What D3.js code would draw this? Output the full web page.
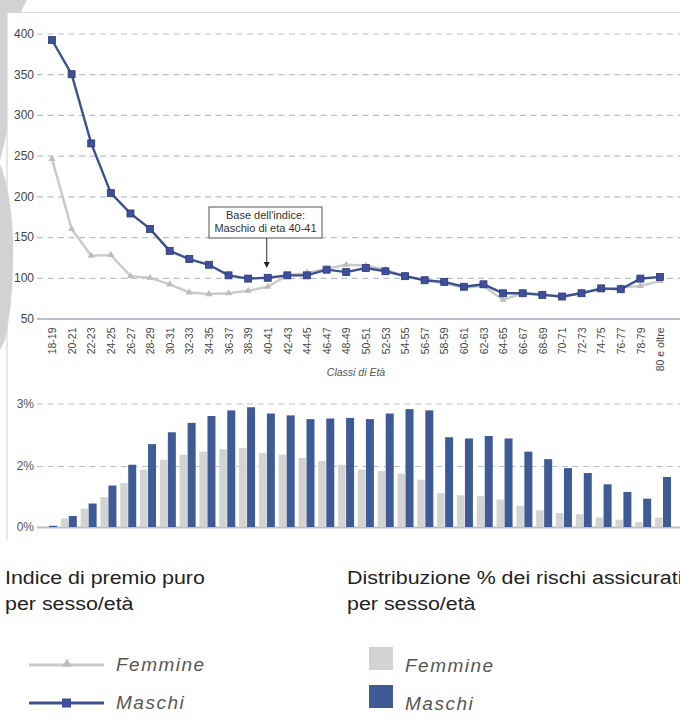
<!DOCTYPE html>
<html lang="it">
<head>
<meta charset="UTF-8">
<title>Indice di premio puro per sesso/età</title>
<script src="https://cdnjs.cloudflare.com/ajax/libs/d3/7.8.5/d3.min.js"></script>
<style>
  body { margin: 0; background: #fff; }
  #chart text { font-family: "Liberation Sans", Arial, sans-serif; }
</style>
</head>
<body>
<div id="chart"></div>
<script>
// age classes (x categories / tick labels)
const ageClasses = ["18-19","20-21","22-23","24-25","26-27","28-29","30-31","32-33","34-35","36-37",
  "38-39","40-41","42-43","44-45","46-47","48-49","50-51","52-53","54-55","56-57","58-59","60-61",
  "62-63","64-65","66-67","68-69","70-71","72-73","74-75","76-77","78-79","80 e oltre"];

// pure premium index (base = male 40-41 = 100)
const indexMaschi = [392,350,265,204,179,160,133,123,116,103,99,100,103,103,110,107,112,108,102,97,
  95,89,92,81,81,79,77,81,87,86,99,101];
const indexFemmine = [246,160,127,128,102,100,92,82,80,81,84,89,103,106,111,116,115,110,102,97,
  93,88,90,73,81,80,76,82,85,88,90,96];

// % distribution of insured risks
const shareMaschi = [0.04,0.36,0.77,1.36,2.02,2.35,2.54,2.69,2.80,2.89,2.94,2.84,2.81,2.75,2.76,2.77,
  2.75,2.84,2.91,2.89,2.46,2.44,2.48,2.44,2.23,2.11,1.93,1.77,1.40,1.15,0.93,1.64];
const shareFemmine = [0.02,0.28,0.60,0.98,1.44,1.88,2.10,2.18,2.23,2.27,2.29,2.21,2.18,2.13,2.08,2.02,
  1.88,1.84,1.75,1.55,1.11,1.04,1.01,0.90,0.70,0.55,0.46,0.42,0.31,0.24,0.16,0.31];

// axis ticks
const indexTicks = [50,100,150,200,250,300,350,400];
const shareTicks = [0,2,3];
const shareTickLabels = ["0%","2%","3%"];
const seriesNames = ["Femmine","Maschi"];

const blue = "#3d5090", blueBar = "#3f5b95", grey = "#cbcbcb", greyBar = "#d3d3d3";
const gridColor = "#b9bfcc";

const W = 680, H = 727;
const svg = d3.select("#chart").append("svg").attr("width", W).attr("height", H);

// background decoration: grey shapes on the left and white panel
svg.append("path")
  .attr("d", "M0,0 L27,0 Q23,7 21,12 L7,12 L7,128 Q5,145 0,160 Z")
  .attr("fill", "#d2d2d5");
svg.append("path")
  .attr("d", "M0,164 Q11,190 13,240 Q14,300 5,340 L0,350 Z")
  .attr("fill", "#d2d2d5");
svg.append("path")
  .attr("d", "M7,540 L7,12.5 L680,12.5")
  .attr("fill", "none").attr("stroke", "#d8d8d8").attr("stroke-width", 1.2);

// ---------- line chart ----------
const xLine = d3.scalePoint().domain(ageClasses).range([52, 660]);
const yLine = d3.scaleLinear().domain([50, 400]).range([318.5, 33.5]);

const yAxisLine = svg.append("g")
  .attr("transform", "translate(37,0)")
  .call(d3.axisLeft(yLine).tickValues(indexTicks).tickSize(-(W - 37)).tickPadding(3));
yAxisLine.select(".domain").remove();
yAxisLine.selectAll(".tick line")
  .attr("stroke", gridColor).attr("stroke-width", d => d === 50 ? 1.8 : 1.2)
  .attr("stroke-dasharray", d => d === 50 ? null : "6,4.5");
yAxisLine.selectAll(".tick text").attr("fill", "#444").style("font-size", "12px");

const xAxisLine = svg.append("g")
  .attr("transform", `translate(0,${yLine(50)})`)
  .call(d3.axisBottom(xLine).tickSize(0));
xAxisLine.select(".domain").remove();
xAxisLine.selectAll(".tick text")
  .attr("transform", "rotate(-90)")
  .attr("x", -9).attr("y", 0).attr("dy", "0.35em")
  .attr("text-anchor", "end")
  .attr("fill", "#444").style("font-size", "10.5px");

svg.append("text")
  .attr("x", 356).attr("y", 376)
  .attr("text-anchor", "middle")
  .attr("fill", "#555").style("font-size", "10.5px").style("font-style", "italic")
  .text("Classi di Età");

const line = d3.line().x((d, i) => xLine(ageClasses[i])).y(d => yLine(d));

svg.append("path").datum(indexFemmine)
  .attr("d", line).attr("fill", "none").attr("stroke", grey).attr("stroke-width", 2.5);
const tri = d3.symbol().type(d3.symbolTriangle).size(22);
svg.append("g").selectAll("path").data(indexFemmine).join("path")
  .attr("d", tri)
  .attr("transform", (d, i) => `translate(${xLine(ageClasses[i])},${yLine(d)})`)
  .attr("fill", "#bdbdbd");

svg.append("path").datum(indexMaschi)
  .attr("d", line).attr("fill", "none").attr("stroke", blue).attr("stroke-width", 2.4);
svg.append("g").selectAll("rect").data(indexMaschi).join("rect")
  .attr("x", (d, i) => xLine(ageClasses[i]) - 3.5)
  .attr("y", d => yLine(d) - 3.5)
  .attr("width", 7).attr("height", 7)
  .attr("fill", "#3f4f9c").attr("stroke", "#2c3a78").attr("stroke-width", 0.8);

// annotation
const baseCls = "40-41";
const ax = xLine(baseCls) - 1;
const ann = svg.append("g");
ann.append("rect").attr("x", 209).attr("y", 207).attr("width", 113).attr("height", 31)
  .attr("fill", "#fff").attr("stroke", "#555").attr("stroke-width", 1);
ann.append("text").attr("x", 265.5).attr("y", 219)
  .attr("text-anchor", "middle").attr("fill", "#333").style("font-size", "11px")
  .text("Base dell'indice:");
ann.append("text").attr("x", 265.5).attr("y", 231.5)
  .attr("text-anchor", "middle").attr("fill", "#333").style("font-size", "11px")
  .text("Maschio di eta 40-41");
ann.append("line").attr("x1", ax).attr("x2", ax).attr("y1", 238).attr("y2", 263)
  .attr("stroke", "#333").attr("stroke-width", 1);
ann.append("path")
  .attr("d", `M${ax - 3},${262} L${ax + 3},${262} L${ax},${268} Z`)
  .attr("fill", "#222");

// ---------- bar chart ----------
const xBar = d3.scalePoint().domain(ageClasses).range([53, 667]);
const yBar = d3.scaleLinear().domain([0, 2, 3]).range([527, 466, 403.5]);

const yAxisBar = svg.append("g")
  .attr("transform", "translate(37,0)")
  .call(d3.axisLeft(yBar).tickValues(shareTicks).tickSize(-(W - 37)).tickPadding(3)
    .tickFormat((d, i) => shareTickLabels[i]));
yAxisBar.select(".domain").remove();
yAxisBar.selectAll(".tick line")
  .attr("stroke", gridColor).attr("stroke-width", d => d === 0 ? 1.8 : 1.2)
  .attr("stroke-dasharray", d => d === 0 ? null : "6,4.5");
yAxisBar.selectAll(".tick text").attr("fill", "#555").style("font-size", "12px");

svg.append("g").selectAll("rect").data(shareFemmine).join("rect")
  .attr("x", (d, i) => xBar(ageClasses[i]) - 12)
  .attr("y", d => yBar(d))
  .attr("width", 7.5)
  .attr("height", d => yBar(0) - yBar(d))
  .attr("fill", greyBar);

svg.append("g").selectAll("rect").data(shareMaschi).join("rect")
  .attr("x", (d, i) => xBar(ageClasses[i]) - 4)
  .attr("y", d => yBar(d))
  .attr("width", 8)
  .attr("height", d => yBar(0) - yBar(d))
  .attr("fill", blueBar);

// ---------- titles and legends ----------
// the reference lettering is wider than Liberation Sans, so stretch it horizontally
const title = (x, y, txt) => svg.append("text")
  .attr("transform", `translate(${x},${y}) scale(1.19,1)`)
  .attr("fill", "#222").style("font-size", "18px").text(txt);
title(5, 584, "Indice di premio puro");
title(5, 610, "per sesso/età");
title(347, 584, "Distribuzione % dei rischi assicurati");
title(347, 610, "per sesso/età");

const legendY = [665, 703];
const legendText = sel => sel.attr("fill", "#555").style("font-size", "19px")
  .style("font-style", "italic").style("letter-spacing", "1.5px");

// line legend
seriesNames.forEach((name, i) => {
  const y = legendY[i];
  const g = svg.append("g");
  g.append("line").attr("x1", 29).attr("x2", 104).attr("y1", y).attr("y2", y)
    .attr("stroke", i === 0 ? grey : blue).attr("stroke-width", 3);
  if (i === 0) {
    g.append("path").attr("d", d3.symbol().type(d3.symbolTriangle).size(40))
      .attr("transform", `translate(67,${y - 1})`).attr("fill", "#bdbdbd");
  } else {
    g.append("rect").attr("x", 62).attr("y", y - 4.5).attr("width", 9).attr("height", 9)
      .attr("fill", "#3f4f9c");
  }
  g.append("text").attr("x", 116).attr("y", y + 6).call(legendText).text(name);
});

// bar legend
seriesNames.forEach((name, i) => {
  const y = legendY[i];
  svg.append("rect").attr("x", 369).attr("y", y - 18).attr("width", 24).attr("height", 23)
    .attr("fill", i === 0 ? greyBar : blueBar);
  svg.append("text").attr("x", 405).attr("y", y + 7).call(legendText).text(name);
});
</script>
</body>
</html>
